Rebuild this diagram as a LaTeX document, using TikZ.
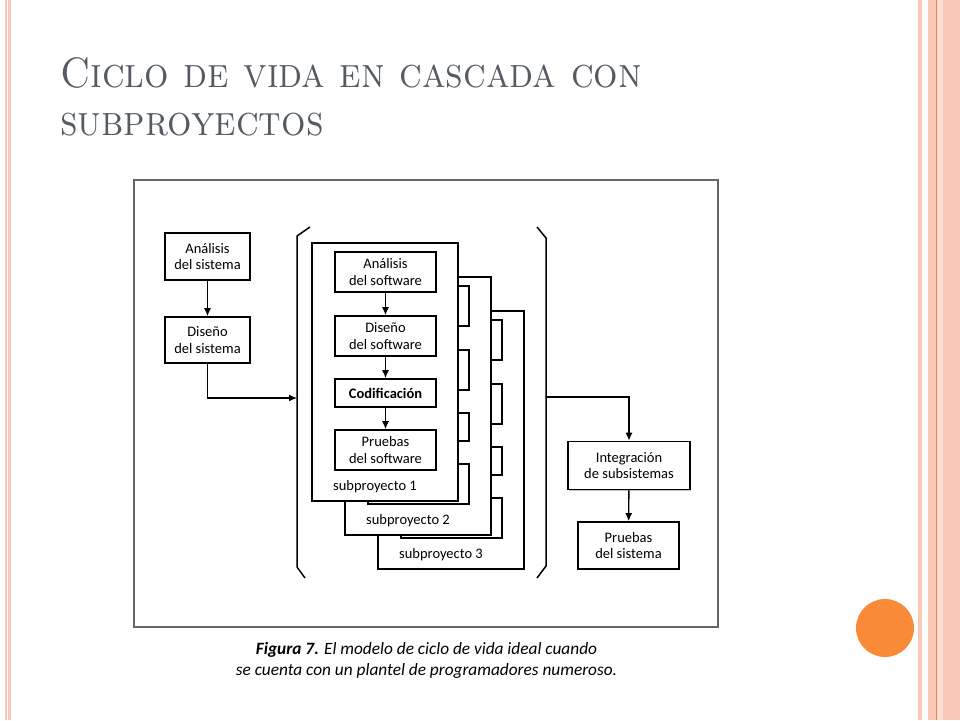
\documentclass[tikz,border=0pt]{standalone}
\usepackage{fontspec}
\newfontfamily\diagfont{Carlito}
\usetikzlibrary{arrows.meta,shadows}
\definecolor{titlegray}{RGB}{84,91,99}
\definecolor{stripe}{RGB}{250,200,182}
\definecolor{stripedark}{RGB}{240,128,80}
\definecolor{dotorange}{RGB}{249,138,56}
\tikzset{
  box/.style={draw, line width=1.6pt, fill=white, align=center, inner sep=0pt,
    font=\diagfont\fontsize{14.5}{16.5}\selectfont,
    drop shadow={shadow xshift=1.2pt, shadow yshift=-1.2pt, fill=black!45}},
  sheet/.style={draw, line width=1.4pt, fill=white},
  sublabel/.style={font=\diagfont\fontsize{14.5}{16.5}\selectfont, inner sep=0pt},
  arr/.style={line width=1.4pt, -{Latex[length=8pt,width=7pt]}},
  title/.style={font=\fontsize{42.5}{48}\selectfont\scshape, text=titlegray, inner sep=0pt, anchor=base west},
}
\begin{document}
\begin{tikzpicture}[x=1pt, y=-1pt]
        \useasboundingbox (0,0) rectangle (960,720);

        % slide decoration
        \fill[stripe] (5,0) rectangle (6.5,720);
        \fill[stripe] (8,0) rectangle (11,720);
        \fill[stripe] (918,0) rectangle (922,720);
        \fill[stripe] (928,0) rectangle (960,720);
        \fill[stripe!60] (937,0) rectangle (943,720);
        \draw[stripedark, line width=1pt] (936,0) -- (936,720);
        \fill[dotorange] (885,628) circle (29pt);

        \node[title] (tit1) at (60,87) {\scalebox{0.905}[1]{Ciclo de vida en cascada con}};
        \node[title] (tit2) at (60,135) {\scalebox{0.905}[1]{subproyectos}};

        % figure frame
        \draw[black!60, line width=1.2pt] (134,180) rectangle (718,627);

        \node[box, minimum width=85pt, minimum height=47pt] (asis) at (207.5,256.5) {Análisis\\del sistema};
        \node[box, minimum width=85pt, minimum height=46pt] (dsis) at (207.5,340) {Diseño\\del sistema};
        \draw[arr] (asis) -- (dsis);

        % brackets
        \draw[line width=1.5pt] (310,227) -- (297,236) -- (297,567) -- (305,578);
        \draw[line width=1.5pt] (537,227) -- (546,238) -- (546,566) -- (537,578);
        \coordinate (lbr) at (297,398);
        \coordinate (rbr) at (546,397);
        \draw[arr] (dsis.south) |- (lbr);

        % subprojects 3 and 2 (only their right edges show)
        \foreach \k in {3,2} {
          \begin{scope}[shift={({(\k-1)*33},{(\k-1)*34})}]
            \draw[sheet] (312,243) rectangle (458,501);
            \node[box, minimum width=101pt, minimum height=40pt] (ana\k) at (385.5,272) {};
            \node[box, minimum width=101pt, minimum height=40pt] (dis\k) at (385.5,336) {};
            \node[box, minimum width=101pt, minimum height=28pt] (cod\k) at (385.5,393) {};
            \node[box, minimum width=101pt, minimum height=40pt] (pru\k) at (385.5,450) {};
            \node[sublabel] (sub\k) at (375,487) {subproyecto \k};
          \end{scope}
        }

        % subproject 1
        \draw[sheet] (312,243) rectangle (458,501);
        \node[box, minimum width=101pt, minimum height=40pt] (ana1) at (385.5,272) {Análisis\\del software};
        \node[box, minimum width=101pt, minimum height=40pt] (dis1) at (385.5,336) {Diseño\\del software};
        \node[box, minimum width=101pt, minimum height=28pt] (cod1) at (385.5,393) {\textbf{Codificación}};
        \node[box, minimum width=101pt, minimum height=40pt] (pru1) at (385.5,450) {Pruebas\\del software};
        \draw[arr] (ana1) -- (dis1);
        \draw[arr] (dis1) -- (cod1);
        \draw[arr] (cod1) -- (pru1);
        \node[sublabel] (sub1) at (375,487) {subproyecto 1};

        \node[box, minimum width=122pt, minimum height=48pt] (isub) at (629,465.5) {Integración\\de subsistemas};
        \node[box, minimum width=101pt, minimum height=47pt] (psis) at (628.5,545.5) {Pruebas\\del sistema};
        \draw[arr] (rbr) -| (isub.north);
        \draw[arr] (isub) -- (psis);

        \node[font=\diagfont\itshape\fontsize{17.3}{21}\selectfont, align=center, inner sep=0pt] (cap) at (426.5,660)
          {\textbf{Figura 7.} El modelo de ciclo de vida ideal cuando\\se cuenta con un plantel de programadores numeroso.};
\end{tikzpicture}
\end{document}
